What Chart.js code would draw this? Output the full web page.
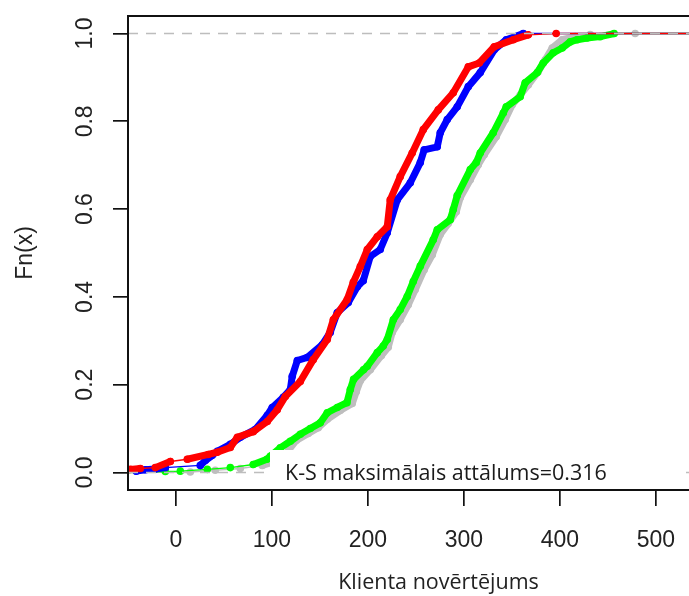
<!DOCTYPE html>
<html>
<head>
<meta charset="utf-8">
<script src="https://cdn.jsdelivr.net/npm/chart.js@4.4.1/dist/chart.umd.min.js"></script>
<style>
  html, body { margin: 0; padding: 0; background: #fff; overflow: hidden; }
  #wrap { position: relative; width: 749px; height: 596px; }
</style>
</head>
<body>
<div id="wrap"><canvas id="ecdfChart"></canvas></div>
<script>
/* Axis setup */
const x_ticks = [0, 100, 200, 300, 400, 500];
const y_ticks = [0, 0.2, 0.4, 0.6, 0.8, 1];
const y_tick_labels = ['0.0', '0.2', '0.4', '0.6', '0.8', '1.0'];
const x_min = -50;
const x_max = 597;
const y_min = -0.04;
const y_max = 1.04;
const ks_label = 'K-S maksimālais attālums=0.316';

/* ecdf jump points (x = score, y = Fn(x)) */
const red_x = [-47.6, -37.2, -21.6, -5.9, 11.8, 33.6, 43.0, 56.6, 63.9, 80.5, 95.1, 105.5, 113.9, 129.5, 143.0, 157.6, 163.9, 178.4, 184.7, 192.0, 199.3, 209.7, 220.1, 223.2, 233.6, 246.1, 257.6, 273.2, 288.9, 304.5, 316.0, 331.6, 351.4, 367.0, 396.1];
const red_y = [0.007, 0.009, 0.011, 0.025, 0.030, 0.041, 0.046, 0.057, 0.080, 0.093, 0.116, 0.143, 0.173, 0.207, 0.257, 0.303, 0.348, 0.394, 0.433, 0.469, 0.508, 0.537, 0.560, 0.621, 0.674, 0.728, 0.781, 0.826, 0.865, 0.924, 0.933, 0.970, 0.986, 0.997, 1.0];

const blue_x = [-41.4, -32.0, -21.6, -11.1, 25.3, 30.5, 37.8, 43.0, 56.6, 67.0, 82.6, 95.1, 100.3, 111.8, 119.1, 121.1, 126.4, 136.8, 152.4, 160.7, 168.0, 179.5, 188.9, 195.1, 202.4, 212.8, 220.1, 230.5, 244.1, 254.5, 258.6, 272.2, 275.3, 282.6, 293.0, 304.5, 317.0, 331.6, 344.1, 361.8];
const blue_y = [0.003, 0.006, 0.008, 0.011, 0.016, 0.027, 0.039, 0.048, 0.064, 0.080, 0.098, 0.130, 0.148, 0.171, 0.189, 0.219, 0.255, 0.262, 0.291, 0.319, 0.364, 0.387, 0.423, 0.437, 0.492, 0.508, 0.546, 0.621, 0.660, 0.706, 0.735, 0.742, 0.774, 0.804, 0.833, 0.879, 0.911, 0.963, 0.986, 1.0];

const green_x = [-11.1, 4.5, 32.6, 56.6, 80.5, 94.8, 98.2, 108.6, 119.1, 129.5, 139.9, 150.3, 157.6, 168.0, 178.1, 181.6, 185.0, 195.4, 199.3, 209.7, 215.9, 220.1, 226.4, 233.6, 240.9, 247.2, 254.5, 268.0, 272.2, 285.7, 288.9, 293.0, 306.6, 312.8, 317.0, 330.5, 341.0, 344.1, 358.6, 363.8, 376.4, 382.6, 393.0, 402.4, 410.7, 418.0, 428.4, 441.9, 456.5];
const green_y = [0.002, 0.003, 0.007, 0.011, 0.018, 0.030, 0.037, 0.056, 0.071, 0.087, 0.100, 0.113, 0.136, 0.148, 0.159, 0.189, 0.212, 0.234, 0.242, 0.273, 0.288, 0.303, 0.348, 0.371, 0.401, 0.435, 0.470, 0.530, 0.553, 0.576, 0.599, 0.631, 0.690, 0.706, 0.728, 0.774, 0.819, 0.833, 0.856, 0.888, 0.911, 0.933, 0.956, 0.967, 0.981, 0.986, 0.990, 0.993, 1.0];

const gray_x = [14.9, 40.9, 67.0, 89.9, 103.4, 113.9, 125.3, 137.8, 148.2, 157.6, 171.1, 183.6, 187.8, 192.0, 202.4, 213.9, 221.1, 225.3, 233.6, 242.0, 249.3, 258.6, 267.0, 275.3, 283.6, 292.0, 296.1, 306.6, 314.9, 321.1, 333.6, 343.0, 350.3, 358.6, 367.0, 377.4, 384.7, 392.0, 402.4, 415.9, 431.6, 478.4];
const gray_y = [0.001, 0.005, 0.009, 0.016, 0.025, 0.041, 0.073, 0.089, 0.102, 0.121, 0.141, 0.157, 0.184, 0.209, 0.234, 0.266, 0.285, 0.319, 0.348, 0.382, 0.417, 0.462, 0.496, 0.542, 0.567, 0.594, 0.626, 0.667, 0.701, 0.724, 0.765, 0.804, 0.838, 0.860, 0.883, 0.913, 0.940, 0.967, 0.986, 0.993, 0.998, 1.0];

/* ecdf runs flat at 0 from the left edge and at 1 to the right edge */
const toPoints = (xs, ys) => {
  const pts = [{ x: x_min, y: 0 }];
  for (let i = 0; i < xs.length; i++) {
    pts.push({ x: xs[i], y: ys[i] });
  }
  pts.push({ x: x_max, y: 1 });
  return pts;
};

const makeSeries = (label, color, xs, ys, order) => {
  const last = xs.length + 1;
  return {
    label: label,
    data: toPoints(xs, ys),
    borderColor: color,
    backgroundColor: color,
    borderWidth: 7,
    borderCapStyle: 'round',
    borderJoinStyle: 'round',
    pointRadius: (ctx) => (ctx.dataIndex === 0 || ctx.dataIndex === last) ? 0 : 3.8,
    pointBorderWidth: 0,
    order: order,
    segment: {
      // long flat pieces are the thin step lines, dense runs look like a chain of dots
      borderWidth: (ctx) => {
        if (ctx.p0DataIndex === 0 || ctx.p1DataIndex === last) return 1.4;
        const dx = ctx.p1.parsed.x - ctx.p0.parsed.x;
        const dy = ctx.p1.parsed.y - ctx.p0.parsed.y;
        return (dx > 15 && dy < 0.01) ? 1.4 : 7;
      }
    }
  };
};

const refLine = (level) => ({
  data: [{ x: x_min, y: level }, { x: x_max, y: level }],
  borderColor: '#bdbdbd',
  borderWidth: 1.6,
  borderDash: [10, 8],
  pointRadius: 0,
  order: 0
});

/* box, white note and rotated y labels like the R plot */
const extrasPlugin = {
  id: 'extras',
  afterDatasetsDraw(chart) {
    const ctx = chart.ctx;
    const area = chart.chartArea;
    const yScale = chart.scales.y;
    ctx.save();

    ctx.fillStyle = '#ffffff';
    ctx.fillRect(270, 450, 411, 37);
    ctx.fillStyle = '#1a1a1a';
    ctx.font = '21.5px "Open Sans"';
    ctx.textBaseline = 'alphabetic';
    ctx.textAlign = 'left';
    ctx.fillText(ks_label, 285, 480);

    ctx.strokeStyle = '#111';
    ctx.lineWidth = 2;
    ctx.strokeRect(area.left, area.top, area.right - area.left, area.bottom - area.top);

    ctx.font = '23px "Liberation Sans"';
    ctx.fillStyle = '#222';
    ctx.textAlign = 'center';
    for (let i = 0; i < y_ticks.length; i++) {
      const py = yScale.getPixelForValue(y_ticks[i]);
      ctx.save();
      ctx.translate(92, py);
      ctx.rotate(-Math.PI / 2);
      ctx.fillText(y_tick_labels[i], 0, 0);
      ctx.restore();
    }
    ctx.restore();
  }
};

const ecdf_chart = new Chart(document.getElementById('ecdfChart').getContext('2d'), {
  type: 'line',
  data: {
    datasets: [
      refLine(0),
      refLine(1),
      makeSeries('red', '#ff0000', red_x, red_y, 1),
      makeSeries('blue', '#0000ff', blue_x, blue_y, 2),
      makeSeries('green', '#00ff00', green_x, green_y, 3),
      makeSeries('gray', '#bebebe', gray_x, gray_y, 4)
    ]
  },
  options: {
    responsive: true,
    maintainAspectRatio: false,
    animation: false,
    layout: { padding: { top: 16, left: 0, right: 0, bottom: 0 } },
    plugins: { legend: { display: false }, tooltip: { enabled: false } },
    scales: {
      x: {
        type: 'linear',
        min: x_min,
        max: x_max,
        afterBuildTicks: (s) => { s.ticks = x_ticks.map(v => ({ value: v })); },
        afterFit: (s) => { s.height = 106; },
        border: { display: false },
        grid: { drawOnChartArea: false, drawTicks: true, tickLength: 16, color: '#111', lineWidth: 1.7 },
        ticks: { color: '#222', font: { family: 'Liberation Sans', size: 23 }, padding: 21, maxRotation: 0, minRotation: 0 },
        title: {
          display: true,
          text: 'Klienta novērtējums',
          color: '#222',
          font: { family: 'Open Sans', size: 21.5 },
          padding: { top: 0, bottom: 0 }
        }
      },
      y: {
        type: 'linear',
        min: y_min,
        max: y_max,
        afterBuildTicks: (s) => { s.ticks = y_ticks.map(v => ({ value: v })); },
        afterFit: (s) => { s.width = 128; },
        border: { display: false },
        grid: { drawOnChartArea: false, drawTicks: true, tickLength: 15, color: '#111', lineWidth: 1.7 },
        ticks: { display: false },
        title: {
          display: true,
          text: 'Fn(x)',
          color: '#222',
          font: { family: 'Liberation Sans', size: 23 },
          padding: { top: 12, bottom: 0 }
        }
      }
    }
  },
  plugins: [extrasPlugin]
});
</script>
</body>
</html>
